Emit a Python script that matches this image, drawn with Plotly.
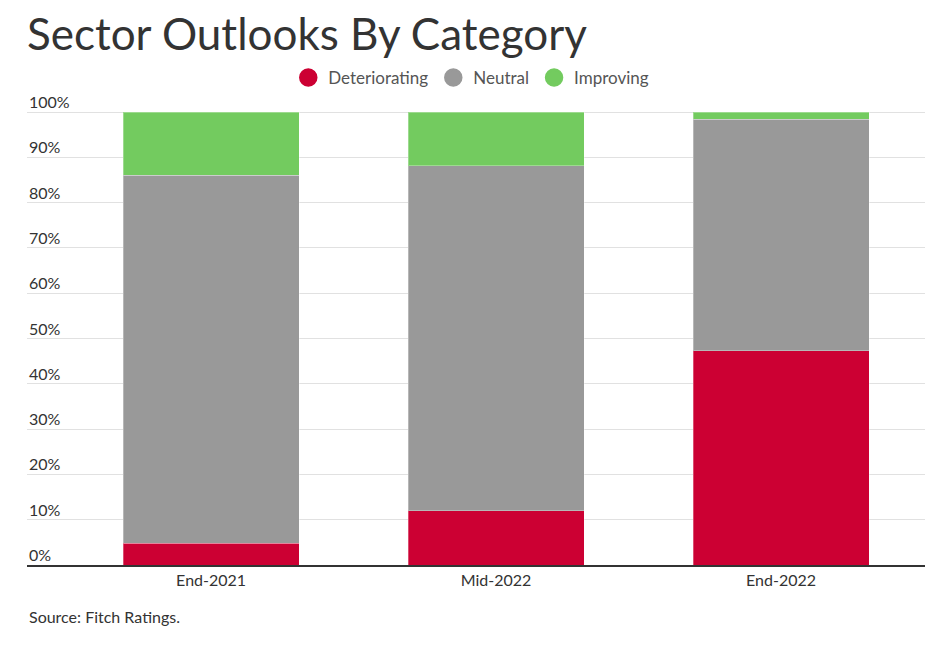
import plotly.graph_objects as go

categories = ["End-2021", "Mid-2022", "End-2022"]
deteriorating = [4.8, 12.0, 47.3]
neutral = [81.2, 76.2, 51.1]
improving = [14.0, 11.8, 1.6]
series_names = ["Deteriorating", "Neutral", "Improving"]
colors = ["#cc0033", "#999999", "#73cb5f"]
y_ticks = [0, 10, 20, 30, 40, 50, 60, 70, 80, 90, 100]
y_tick_labels = [f"{v}%" for v in y_ticks]

# page body has an 8px margin; layout numbers below are in figure coordinates
W, H = 950, 662
ML, MR, MT, MB = 19, 33, 100, 105
plot_h = H - MT - MB

fig = go.Figure()
for name, vals, col in zip(series_names, [deteriorating, neutral, improving], colors):
    fig.add_trace(go.Bar(
        x=categories, y=vals, name=name, showlegend=False,
        marker=dict(color=col, line=dict(color="rgba(255,255,255,0.3)", width=1)),
        width=0.6175, hoverinfo="x+y+name",
    ))
for name, col in zip(series_names, colors):
    fig.add_trace(go.Scatter(
        x=[None], y=[None], mode="markers", name=name,
        marker=dict(color=col, size=16, symbol="circle",
                    line=dict(color=col, width=2.5)),
    ))

annotations = [dict(text=lbl, x=0, xref="paper", xanchor="left",
                    y=v, yref="y", yanchor="bottom", yshift=-1,
                    showarrow=False, font=dict(size=16, color="#333333"))
               for v, lbl in zip(y_ticks, y_tick_labels)]
annotations.append(dict(text="Source: Fitch Ratings.", x=0, xref="paper",
                        xanchor="left", y=-(608 - (H - MB)) / plot_h, yref="paper",
                        yanchor="middle", showarrow=False,
                        font=dict(size=16, color="#333333")))

fig.update_layout(
    width=W, height=H,
    barmode="stack",
    paper_bgcolor="white", plot_bgcolor="white",
    font=dict(family="Lato, 'Open Sans', sans-serif", color="#333333", size=16),
    margin=dict(l=ML, r=MR, t=MT, b=MB),
    title=dict(text="Sector Outlooks By Category", x=ML / W, xanchor="left",
               y=1 - 27 / H, yanchor="middle",
               font=dict(size=44, color="#333333", family="Lato, sans-serif")),
    legend=dict(orientation="h", x=470 / W, xanchor="center", y=1 - 70 / H,
                yref="container", yanchor="middle",
                font=dict(size=17, color="#555555"),
                traceorder="normal"),
    xaxis=dict(type="category", range=[-0.646, 2.505], showgrid=False,
               showline=True, linecolor="#333333", linewidth=2,
               ticks="", tickfont=dict(size=16, color="#333333"),
               fixedrange=True),
    yaxis=dict(range=[0, 100.9], tickvals=y_ticks, showticklabels=False,
               showgrid=True, gridcolor="#e1e1e1", gridwidth=1, zeroline=False,
               ticks="", fixedrange=True),
    annotations=annotations,
)

fig.write_html("out.html")
